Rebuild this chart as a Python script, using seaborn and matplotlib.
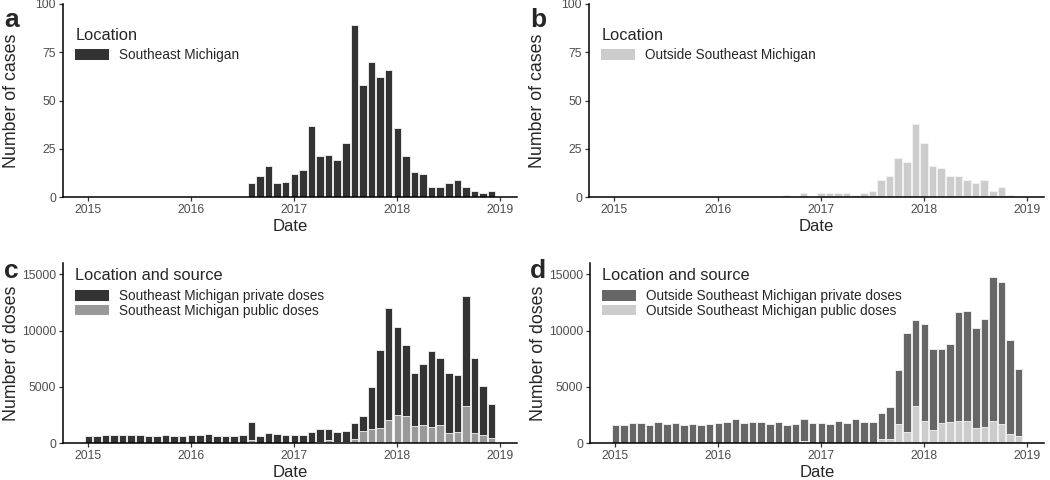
import numpy as np
import pandas as pd
import seaborn as sns
import matplotlib.pyplot as plt
from matplotlib.patches import Patch

# months since Jan 2015 (0 = Jan 2015, 47 = Dec 2018)
months = list(range(48))

# cases, Southeast Michigan (Jan 2015 .. Dec 2018)
se_cases = [0] * 19 + [7, 11, 16, 7, 8, 12, 14, 37, 21, 22, 19, 28, 89, 58, 70, 62,
                       66, 36, 21, 13, 12, 5, 5, 7, 9, 5, 3, 2, 3]
# cases, outside Southeast Michigan
out_cases = [0] * 20 + [1, 0, 2, 0, 2, 2, 2, 2, 1, 2, 3, 9, 11, 20, 18, 38,
                        28, 16, 15, 11, 11, 9, 7, 9, 3, 5, 1, 0]

# doses, Southeast Michigan (total = private + public)
se_total = [650, 600, 750, 750, 700, 700, 700, 630, 630, 700, 600, 630,
            700, 700, 780, 660, 660, 660, 700, 1900, 660, 900, 780, 700,
            750, 720, 960, 1230, 1260, 990, 1050, 1800, 2430, 5000, 8300, 12000,
            10300, 8700, 6250, 7000, 8180, 7580, 6230, 6080, 13050, 7550, 5030, 3450]
se_public = [0] * 12 + \
            [0, 0, 0, 0, 0, 0, 0, 240, 0, 0, 0, 0,
             0, 0, 0, 120, 300, 90, 90, 360, 1050, 1230, 1320, 2070,
             2520, 2370, 1500, 1560, 1380, 1560, 930, 990, 3300, 900, 720, 480]

# doses, outside Southeast Michigan
out_total = [1590, 1590, 1800, 1740, 1590, 1860, 1710, 1770, 1560, 1650, 1620, 1710,
             1800, 1890, 2100, 1740, 1860, 1860, 1650, 1890, 1590, 1710, 2130, 1740,
             1800, 1680, 1920, 1770, 2160, 1860, 1860, 2670, 3180, 6450, 9800, 10900,
             10600, 8400, 8400, 8760, 11670, 11700, 10260, 10980, 14760, 14310, 9120, 6570]
out_public = [0] * 12 + \
             [0, 0, 0, 0, 0, 0, 0, 0, 0, 0, 200, 0,
              0, 0, 0, 0, 0, 0, 0, 390, 330, 1650, 990, 3300,
              1950, 1170, 1740, 1830, 1980, 1920, 1350, 1410, 1950, 1710, 810, 630]

year_ticks = [0, 12, 24, 36, 48]
year_labels = ["2015", "2016", "2017", "2018", "2019"]

sns.set_style("ticks")
plt.rcParams['font.family'] = ['Liberation Sans', 'DejaVu Sans']

fig = plt.figure(figsize=(10.5, 4.8), dpi=100)

W, H = 1050, 480


def add_ax(left, top, right, bottom):
    return fig.add_axes([left / W, 1 - bottom / H, (right - left) / W, (bottom - top) / H])


ax_a = add_ax(63, 4, 517, 197)
ax_b = add_ax(589, 4, 1044, 197)
ax_c = add_ax(63, 263, 517, 443)
ax_d = add_ax(590, 263, 1044, 443)

df = pd.DataFrame({
    "month": months,
    "se_cases": se_cases,
    "out_cases": out_cases,
    "se_total": se_total,
    "se_public": se_public,
    "out_total": out_total,
    "out_public": out_public,
})

bar_kw = dict(native_scale=True, width=0.88, errorbar=None,
              edgecolor="#f4f4f4", linewidth=0.6, saturation=1)

sns.barplot(data=df, x="month", y="se_cases", color="#333333", ax=ax_a, **bar_kw)
sns.barplot(data=df, x="month", y="out_cases", color="#cccccc", ax=ax_b, **bar_kw)
sns.barplot(data=df, x="month", y="se_total", color="#333333", ax=ax_c, **bar_kw)
sns.barplot(data=df, x="month", y="se_public", color="#999999", ax=ax_c, **bar_kw)
sns.barplot(data=df, x="month", y="out_total", color="#666666", ax=ax_d, **bar_kw)
sns.barplot(data=df, x="month", y="out_public", color="#cccccc", ax=ax_d, **bar_kw)

# title, entries, legend anchor y (axes fraction)
legends = {
    ax_a: ("Location", [("#333333", "Southeast Michigan")], 0.905),
    ax_b: ("Location", [("#cccccc", "Outside Southeast Michigan")], 0.905),
    ax_c: ("Location and source", [("#333333", "Southeast Michigan private doses"),
                                   ("#999999", "Southeast Michigan public doses")], 1.0),
    ax_d: ("Location and source", [("#666666", "Outside Southeast Michigan private doses"),
                                   ("#cccccc", "Outside Southeast Michigan public doses")], 1.0),
}

for ax in [ax_a, ax_b, ax_c, ax_d]:
    ax.set_xlim(-2.95, 49.95)
    ax.set_xticks(year_ticks)
    ax.set_xticklabels(year_labels)
    ax.set_xlabel("Date", fontsize=12, labelpad=2)
    sns.despine(ax=ax)
    ax.spines["left"].set_linewidth(1.1)
    ax.spines["bottom"].set_linewidth(1.1)
    ax.spines["left"].set_color("black")
    ax.spines["bottom"].set_color("black")
    ax.tick_params(axis="both", length=3, width=0.9, color="#333333",
                   labelcolor="#4d4d4d", labelsize=8.8, pad=2)
    ax.grid(False)

    title, items, y_anchor = legends[ax]
    handles = [Patch(facecolor=c, edgecolor="none", label=l) for c, l in items]
    leg = ax.legend(handles=handles, title=title, loc="upper left",
                    bbox_to_anchor=(0.015, y_anchor), frameon=False,
                    fontsize=9.8, title_fontsize=11.8, handlelength=2.45,
                    handleheight=0.85, labelspacing=0.05, handletextpad=0.75,
                    borderaxespad=0)
    leg._legend_box.align = "left"
    leg._legend_box.sep = 4

for ax in [ax_a, ax_b]:
    ax.set_ylim(0, 100)
    ax.set_yticks([0, 25, 50, 75, 100])
    ax.set_ylabel("Number of cases", fontsize=12.8)

for ax in [ax_c, ax_d]:
    ax.set_ylim(0, 16000)
    ax.set_yticks([0, 5000, 10000, 15000])
    ax.set_ylabel("Number of doses", fontsize=12.8)

# y labels at the same distance from the axis in every panel
for ax in [ax_a, ax_b, ax_c, ax_d]:
    ax.yaxis.set_label_coords(-0.095, 0.5)

# panel letters
for letter, x, y in [("a", 4, 8), ("b", 530, 8), ("c", 4, 259), ("d", 530, 259)]:
    fig.text(x / W, 1 - y / H, letter, fontsize=19, fontweight="bold", va="top", ha="left")

fig.savefig("out.png", dpi=100)
